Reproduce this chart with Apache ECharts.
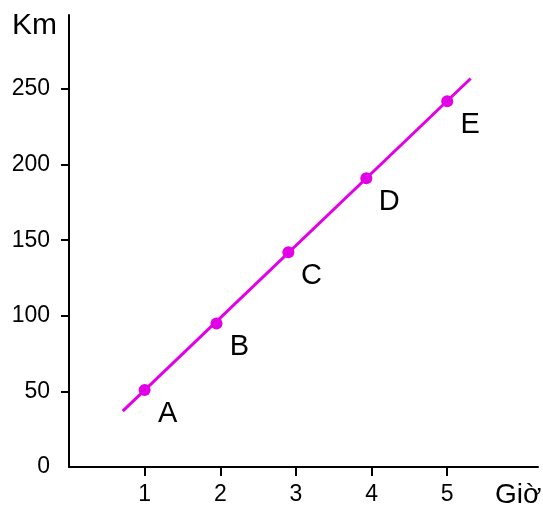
<!DOCTYPE html>
<html>
<head>
<meta charset="utf-8">
<script src="https://cdn.jsdelivr.net/npm/echarts@6/dist/echarts.min.js"></script>
<style>
  html, body { margin: 0; padding: 0; background: #ffffff; }
  #chart { width: 543px; height: 507px; }
</style>
</head>
<body>
<div id="chart"></div>
<script>
// Distance travelled (km) against time (hours)
const pointNames = ['A', 'B', 'C', 'D', 'E'];
const pointHours = [1, 1.95, 2.9, 3.93, 5];
const pointKm = [51, 95, 142, 191, 242];

// The straight line through the points, drawn a little past A and E
const lineHours = [0.71, 5.31];
const lineKm = [37, 257];

const xTickValues = [1, 2, 3, 4, 5];
const yTickValues = [50, 100, 150, 200, 250];
const yLabelValues = [0, 50, 100, 150, 200, 250];

const FONT = 'Liberation Sans, Arial, sans-serif';
const MAGENTA = '#e200e6';

const chart = echarts.init(document.getElementById('chart'), null, { renderer: 'canvas' });

chart.setOption({
  animation: false,
  backgroundColor: '#ffffff',
  grid: { left: 69, right: 5, top: 15, bottom: 40, containLabel: false },
  xAxis: {
    type: 'value',
    min: 0,
    max: 6.2,
    splitLine: { show: false },
    axisLine: { show: true, onZero: false, lineStyle: { color: '#000', width: 2 } },
    axisTick: { show: true, length: 9, customValues: xTickValues, lineStyle: { color: '#000', width: 2 } },
    axisLabel: { customValues: xTickValues, color: '#000', fontSize: 23, fontFamily: FONT, margin: 16 }
  },
  yAxis: {
    type: 'value',
    min: 0,
    max: 299,
    splitLine: { show: false },
    axisLine: { show: true, onZero: false, lineStyle: { color: '#000', width: 2 } },
    axisTick: { show: true, length: 8, customValues: yTickValues, lineStyle: { color: '#000', width: 2 } },
    axisLabel: { customValues: yLabelValues, color: '#000', fontSize: 23, fontFamily: FONT, margin: 19 }
  },
  graphic: [
    {
      type: 'text', left: 12, top: 11,
      style: { text: 'Km', fontSize: 30, fontFamily: FONT, fill: '#000' }
    },
    {
      type: 'text', left: 495, top: 481,
      style: { text: 'Giờ', fontSize: 28, fontFamily: FONT, fill: '#000' }
    }
  ],
  series: [
    {
      type: 'line',
      data: lineHours.map((h, i) => [h, lineKm[i]]),
      showSymbol: false,
      lineStyle: { color: MAGENTA, width: 3 },
      silent: true,
      z: 2
    },
    {
      type: 'scatter',
      data: pointHours.map((h, i) => ({ value: [h, pointKm[i]], name: pointNames[i] })),
      symbol: 'circle',
      symbolSize: 12,
      itemStyle: { color: MAGENTA, opacity: 1 },
      label: {
        show: true,
        formatter: p => p.name,
        position: 'inside',
        offset: [23, 24],
        color: '#000',
        textBorderWidth: 0,
        fontSize: 29,
        fontFamily: FONT
      },
      z: 3
    }
  ]
});
</script>
</body>
</html>
